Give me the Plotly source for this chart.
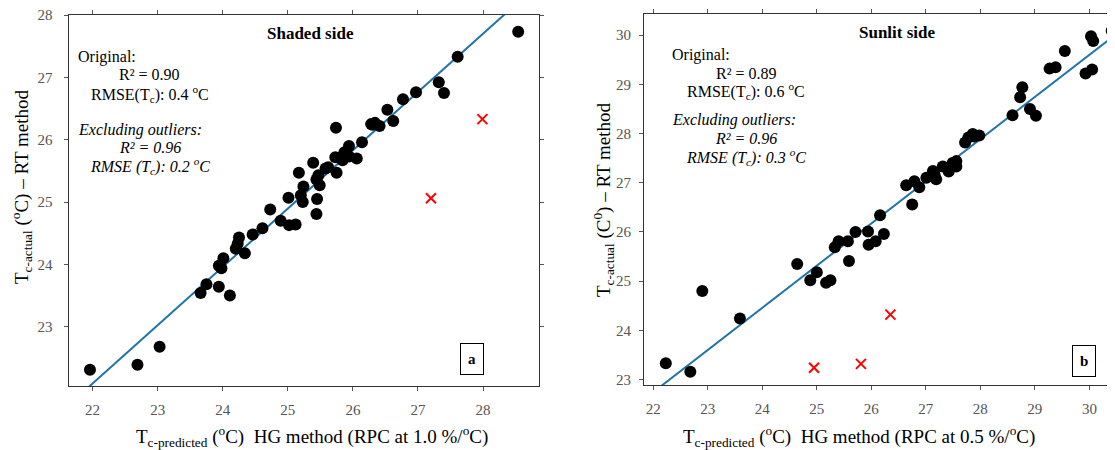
import plotly.graph_objects as go

# ---------------- data: panel a (Shaded side) ----------------
a_pred = [21.96, 22.69, 23.03, 23.66, 23.75, 23.94, 24.11, 23.94, 23.98, 24.01,
          24.20, 24.23, 24.25, 24.34, 24.46, 24.61, 24.73, 24.89, 25.02, 25.12,
          25.01, 25.17, 25.20, 25.23, 25.24, 25.44, 25.45, 25.39, 25.44, 25.49,
          25.47, 25.58, 25.62, 25.75, 25.73, 25.82, 25.87, 25.94, 25.84, 25.94,
          26.06, 26.14, 25.74, 26.30, 26.34, 26.41, 26.53, 26.62, 26.77, 26.97,
          27.32, 27.40, 27.61, 28.54, 26.28]
a_act = [22.31, 22.39, 22.68, 23.54, 23.68, 23.64, 23.50, 23.98, 23.94, 24.10,
         24.25, 24.33, 24.43, 24.18, 24.48, 24.58, 24.88, 24.70, 24.63, 24.64,
         25.07, 25.47, 25.11, 25.00, 25.25, 24.81, 25.05, 25.63, 25.36, 25.27,
         25.43, 25.54, 25.56, 25.47, 25.72, 25.72, 25.80, 25.90, 25.67, 25.73,
         25.70, 25.96, 26.19, 26.24, 26.27, 26.22, 26.48, 26.30, 26.65, 26.76,
         26.92, 26.75, 27.33, 27.73, 26.25]
a_out_pred = [27.20, 27.99]
a_out_act = [25.06, 26.33]
a_slope, a_intercept = 0.935, 1.52

# ---------------- data: panel b (Sunlit side) ----------------
b_pred = [22.23, 22.68, 22.90, 23.59, 24.64, 24.88, 25.00, 25.17, 25.25, 25.33,
          25.40, 25.57, 25.59, 25.71, 25.94, 25.95, 26.08, 26.16, 26.23, 26.64,
          26.75, 26.79, 26.88, 27.01, 27.16, 27.19, 27.31, 27.42, 27.49, 27.56,
          27.56, 27.72, 27.78, 27.86, 27.98, 28.59, 28.73, 28.77, 28.91, 29.02,
          29.27, 29.38, 29.55, 29.93, 30.05, 30.03, 30.07, 30.41, 27.13, 27.89]
b_act = [23.33, 23.16, 24.80, 24.24, 25.35, 25.02, 25.18, 24.97, 25.02, 25.69,
         25.81, 25.81, 25.41, 26.00, 26.01, 25.74, 25.81, 26.34, 25.96, 26.95,
         26.56, 27.03, 26.91, 27.10, 27.17, 27.07, 27.33, 27.23, 27.40, 27.44,
         27.33, 27.82, 27.92, 27.99, 27.96, 28.37, 28.74, 28.94, 28.50, 28.36,
         29.32, 29.35, 29.68, 29.22, 29.30, 29.98, 29.88, 30.09, 27.24, 27.94]
b_out_pred = [24.95, 25.81, 26.35]
b_out_act = [23.24, 23.32, 24.32]
b_slope, b_intercept = 0.857, 3.89

a_xrange = [21.63, 28.86]
a_yrange = [22.05, 28.0]
b_xrange = [21.83, 30.47]
b_yrange = [22.89, 30.43]

SERIF = "Liberation Serif"
LINE_COLOR = "#1f74a8"

# the page body adds an 8px offset; the figure fills the rest of the window
OFF = 8
W, H = 1115 - OFF, 450 - OFF
def px(sx):
    return (sx - OFF) / W
def py(sy):
    return 1 - (sy - OFF) / H

fig = go.Figure()

def add_panel(pred, act, opred, oact, slope, icpt, xr, xa, ya, msize):
    fig.add_trace(go.Scatter(x=xr, y=[slope * v + icpt for v in xr], mode="lines",
                             line=dict(color=LINE_COLOR, width=2), xaxis=xa, yaxis=ya,
                             showlegend=False, hoverinfo="skip"))
    fig.add_trace(go.Scatter(x=pred, y=act, mode="markers",
                             marker=dict(color="black", size=msize), xaxis=xa, yaxis=ya,
                             showlegend=False))
    fig.add_trace(go.Scatter(x=opred, y=oact, mode="markers",
                             marker=dict(symbol="x-thin", size=10, color="red",
                                         line=dict(color="red", width=2)),
                             xaxis=xa, yaxis=ya, showlegend=False))

add_panel(a_pred, a_act, a_out_pred, a_out_act, a_slope, a_intercept, a_xrange, "x", "y", 12)
add_panel(b_pred, b_act, b_out_pred, b_out_act, b_slope, b_intercept, b_xrange, "x2", "y2", 12)

axis_common = dict(showgrid=False, zeroline=False, showline=True, linecolor="#333",
                   linewidth=1, mirror="allticks", ticks="outside", ticklen=4,
                   tickcolor="#555", dtick=1, automargin=False,
                   ticklabeloverflow="allow",
                   tickfont=dict(family=SERIF, size=15, color="#555"))

fig.update_layout(
    width=W, height=H, margin=dict(l=0, r=0, t=0, b=0, pad=0),
    paper_bgcolor="white", plot_bgcolor="white",
    xaxis=dict(domain=[px(68.5), px(539)], range=a_xrange, anchor="y",
               ticklabelstandoff=6, **axis_common),
    yaxis=dict(domain=[py(386), py(15)], range=a_yrange, anchor="x",
               ticklabelstandoff=8, **axis_common),
    xaxis2=dict(domain=[px(644), 1.0], range=b_xrange, anchor="y2",
                ticklabelstandoff=6, **axis_common),
    yaxis2=dict(domain=[py(385), py(14)], range=b_yrange, anchor="x2",
                ticklabelstandoff=5, **axis_common),
)

ann = []
def txt(x, y, text, xa, ya, xanchor="center", size=16, **kw):
    ann.append(dict(x=x, y=y, xref=xa, yref=ya, text=text, showarrow=False,
                    xanchor=xanchor, yanchor="middle",
                    font=dict(family=SERIF, size=size, color="black"), **kw))

# panel a texts
txt(25.35, 27.70, "<b>Shaded side</b>", "x", "y", size=17)
txt(21.75, 27.33, "Original:", "x", "y", xanchor="left")
txt(22.88, 27.04, "R² = 0.90", "x", "y")
txt(22.88, 26.74, "RMSE(T<sub>c</sub>): 0.4 <sup>o</sup>C", "x", "y")
txt(21.75, 26.16, "<i>Excluding outliers:</i>", "x", "y", xanchor="left")
txt(22.88, 25.87, "<i>R² = 0.96</i>", "x", "y")
txt(22.88, 25.58, "<i>RMSE (T<sub>c</sub>): 0.2 <sup>o</sup>C</i>", "x", "y")
txt(27.83, 22.48, "<b>a</b>", "x", "y", bordercolor="black", borderwidth=1,
    borderpad=7, bgcolor="white", size=15)

# panel b texts
txt(26.48, 30.05, "<b>Sunlit side</b>", "x2", "y2", size=17)
txt(22.31, 29.59, "Original:", "x2", "y2", xanchor="left")
txt(23.71, 29.23, "R² = 0.89", "x2", "y2")
txt(23.71, 28.86, "RMSE(T<sub>c</sub>): 0.6 <sup>o</sup>C", "x2", "y2")
txt(22.31, 28.28, "<i>Excluding outliers:</i>", "x2", "y2", xanchor="left")
txt(23.71, 27.90, "<i>R² = 0.96</i>", "x2", "y2")
txt(23.71, 27.53, "<i>RMSE (T<sub>c</sub>): 0.3 <sup>o</sup>C</i>", "x2", "y2")
txt(29.91, 23.38, "<b>b</b>", "x2", "y2", bordercolor="black", borderwidth=1,
    borderpad=7, bgcolor="white", size=15)

# axis titles
txt(px(312), py(436),
    "T<sub>c-predicted</sub> (<sup>o</sup>C)  HG method (RPC at 1.0 %/<sup>o</sup>C)",
    "paper", "paper", size=19)
txt(px(859), py(436),
    "T<sub>c-predicted</sub> (<sup>o</sup>C)  HG method (RPC at 0.5 %/<sup>o</sup>C)",
    "paper", "paper", size=19)
txt(px(21), py(187), "T<sub>c-actual</sub> (<sup>o</sup>C) – RT method",
    "paper", "paper", size=19, textangle=-90)
txt(px(603), py(200), "T<sub>c-actual</sub> (C<sup>0</sup>) – RT method",
    "paper", "paper", size=19, textangle=-90)

fig.update_layout(annotations=ann)
fig.write_html("out.html")
